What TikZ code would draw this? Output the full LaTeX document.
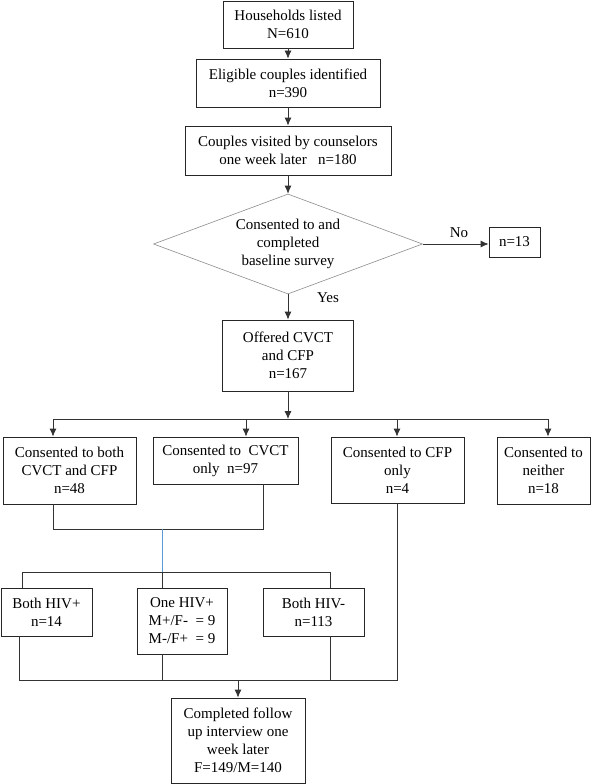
\documentclass[tikz,border=0pt]{standalone}
\usepackage{fontspec}
\setmainfont{Liberation Serif}
\newfontfamily\chartfont{Liberation Serif}
\usetikzlibrary{shapes.geometric,arrows.meta}

\tikzset{
  box/.style={draw=black!85, line width=0.8pt, align=center, inner sep=0pt,
    font=\chartfont\fontsize{15}{18}\selectfont},
  choice/.style={diamond, draw=black!45, line width=0.6pt, aspect=2.69, inner sep=0pt,
    minimum width=269pt, minimum height=100pt, align=center,
    font=\chartfont\fontsize{15}{18}\selectfont},
  lbl/.style={inner sep=0pt, font=\chartfont\fontsize{15}{18}\selectfont},
  link/.style={draw=black!80, line width=0.8pt},
  arr/.style={link, -{Latex[length=8pt,width=7pt]}}
}

\begin{document}
\begin{tikzpicture}[x=1pt, y=-1pt]
  \useasboundingbox (0,0) rectangle (600,784);
  %riquadri in alto
  \node[box, minimum width=130pt, minimum height=47pt] (hh) at (288,24.5) {Households listed\\N=610};
  \node[box, minimum width=184pt, minimum height=48pt] (elig) at (288,83) {Eligible couples identified\\n=390};
  \node[box, minimum width=206pt, minimum height=49pt] (visit) at (288,150.5) {Couples visited by counselors\\one week later~~~n=180};
  \node[choice] (cons) at (288,244) {Consented to and\\completed\\baseline survey};
  \node[box, minimum width=51pt, minimum height=30pt] (no) at (514.5,242) {n=13};
  \node[box, minimum width=131pt, minimum height=71pt] (offer) at (288,355.5) {Offered CVCT\\and CFP\\n=167};
  %etichette
  \node[lbl] (nolbl) at (459,233) {No};
  \node[lbl] (yeslbl) at (328,298) {Yes};
  %consenso
  \node[box, minimum width=133pt, minimum height=67pt] (both) at (69.5,470.5) {Consented to both\\CVCT and CFP\\n=48};
  \node[box, minimum width=145pt, minimum height=47pt] (cvct) at (225.5,460.5) {Consented to~~CVCT\\only~~n=97};
  \node[box, minimum width=133pt, minimum height=66pt] (cfp) at (397.5,470) {Consented to CFP\\only\\n=4};
  \node[box, minimum width=93pt, minimum height=67pt] (neither) at (543.5,470.5) {Consented to\\neither\\n=18};
  %risultati HIV
  \node[box, minimum width=91pt, minimum height=48pt] (bpos) at (46.5,612) {Both HIV+\\n=14};
  \node[box, minimum width=90pt, minimum height=66pt] (one) at (182,621) {One HIV+\\M+/F-~~= 9\\M-/F+~~= 9};
  \node[box, minimum width=101pt, minimum height=48pt] (bneg) at (313.5,612) {Both HIV-\\n=113};
  \node[box, minimum width=134pt, minimum height=85pt] (follow) at (238,740.5) {Completed follow\\up interview one\\week later\\F=149/M=140};
  %punti di giunzione
  \coordinate (s1) at (53,419);
  \coordinate (s2) at (246,419);
  \coordinate (s3) at (397,419);
  \coordinate (s4) at (548,419);
  \coordinate (m1) at (53,529);
  \coordinate (m2) at (263,529);
  \coordinate (mb) at (162,529);
  \coordinate (t1) at (22,572);
  \coordinate (t3) at (330,572);
  \coordinate (b1) at (19,680);
  \coordinate (b4) at (397,680);
  %frecce in alto
  \draw[arr] (hh) -- (elig);
  \draw[arr] (elig) -- (visit);
  \draw[arr] (visit) -- (cons);
  \draw[arr] (cons.east) -- (no.west |- cons.east);
  \draw[arr] (cons) -- (offer);
  \draw[arr] (offer) -- (offer.south |- s1);
  %divisione
  \draw[link] (s1) -- (s4);
  \draw[arr] (s1) -- (s1 |- both.north);
  \draw[arr] (s2) -- (s2 |- cvct.north);
  \draw[arr] (s3) -- (s3 |- cfp.north);
  \draw[arr] (s4) -- (s4 |- neither.north);
  %unione CVCT
  \draw[link] (m1 |- both.south) -- (m1) -- (m2) -- (m2 |- cvct.south);
  \draw[line width=0.8pt, draw={rgb,255:red,91;green,155;blue,213}] (mb) -- (mb |- t1);
  \draw[link] (t1 |- bpos.north) -- (t1) -- (t3) -- (t3 |- bneg.north);
  \draw[link] (mb |- t1) -- (mb |- one.north);
  %unione finale
  \draw[link] (b1 |- bpos.south) -- (b1) -- (b4) -- (b4 |- cfp.south);
  \draw[link] (mb |- one.south) -- (mb |- b1);
  \draw[link] (t3 |- bneg.south) -- (t3 |- b1);
  \draw[arr] (follow.north |- b1) -- (follow.north);
\end{tikzpicture}
\end{document}
